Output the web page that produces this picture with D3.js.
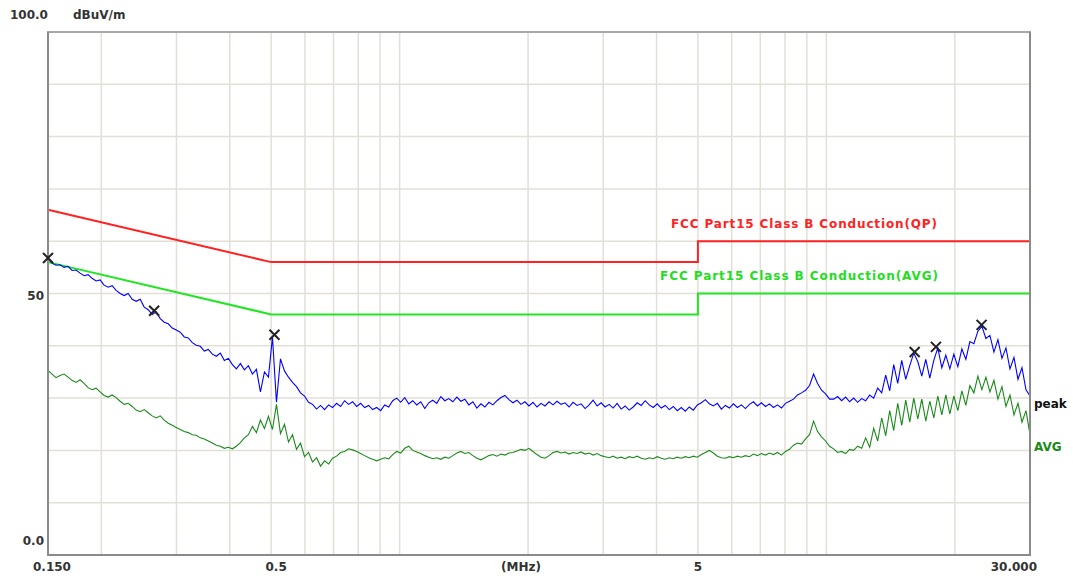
<!DOCTYPE html>
<html>
<meta charset="utf-8">
<script src="https://cdn.jsdelivr.net/npm/d3@7/dist/d3.min.js"></script>
<style>
  body { margin: 0; background: white; }
  text { font-family: "DejaVu Sans", Verdana, sans-serif; font-weight: bold; font-size: 12px; }
</style>
<body>
<svg id="chart" width="1073" height="581"></svg>
<script>

// sweep start/stop in MHz, trace values (dBuV/m)
var fStart = 0.15, fStop = 30
var peakVals = [56.6,55.8,55.4,55.5,55.0,55.2,54.4,54.5,53.9,53.4,53.6,52.9,52.4,52.6,51.6,51.2,51.5,50.6,50.0,49.6,
  50.0,48.9,48.5,48.9,47.4,46.9,46.0,46.5,45.2,44.5,44.2,43.4,43.0,42.6,41.7,41.5,40.6,40.1,39.9,39.0,
  39.3,38.4,38.0,38.6,37.2,37.6,36.4,35.6,36.6,35.4,36.2,34.6,35.5,31.2,35.0,34.0,41.7,29.2,37.5,35.2,
  34.0,33.0,32.2,31.0,30.4,29.2,28.8,27.9,28.6,27.8,28.7,28.2,29.0,28.4,29.5,28.8,29.3,28.4,29.0,28.2,
  28.6,27.8,28.2,27.6,28.7,28.3,29.5,30.0,29.2,30.1,28.9,29.5,28.7,29.3,28.0,29.1,29.6,29.0,30.3,29.5,
  29.9,29.3,30.2,29.4,29.8,28.7,29.3,28.1,28.9,28.3,29.2,28.7,29.5,30.1,30.5,29.7,29.1,29.6,28.8,29.3,
  28.5,29.2,28.3,29.0,28.5,29.3,28.7,29.4,28.8,29.1,28.3,29.2,28.6,28.9,28.0,28.7,29.6,28.5,29.1,28.3,
  28.8,28.1,29.0,27.9,28.5,27.7,28.3,29.1,28.6,29.5,28.7,28.2,28.9,28.1,28.6,27.8,28.4,27.6,28.2,27.5,
  28.3,27.7,28.7,29.1,29.7,28.9,28.5,29.0,27.9,28.6,28.1,28.9,28.2,28.7,28.0,28.8,29.3,28.5,29.1,28.4,
  28.9,28.2,28.7,28.1,29.0,29.4,29.8,30.6,31.0,31.5,32.4,34.6,32.8,31.5,30.8,29.8,29.8,30.3,29.5,30.2,
  29.3,30.0,29.2,29.9,29.5,30.6,30.0,31.9,31.0,34.4,31.4,36.4,32.8,37.2,33.6,36.2,38.6,37.0,34.2,37.4,
  33.8,37.2,39.6,35.8,38.2,35.6,38.4,36.0,39.4,37.4,40.8,40.4,42.8,43.7,41.4,42.0,38.8,41.2,37.6,39.6,
  35.6,37.8,33.6,35.8,31.6,30.4]
var avgVals = [35.3,34.6,33.9,34.3,34.6,34.0,33.4,33.0,33.5,32.8,32.0,31.6,31.9,31.2,30.5,30.2,30.6,30.1,29.4,28.8,
  29.0,28.4,27.7,27.4,27.8,27.2,26.6,26.2,26.6,25.8,25.2,24.8,24.4,24.0,23.6,23.4,23.0,22.9,22.4,22.2,
  21.8,21.4,21.0,20.8,20.4,20.6,20.3,20.8,21.5,22.4,23.0,24.6,23.4,25.8,24.2,26.5,24.0,28.8,23.2,25.0,
  21.6,23.0,20.2,21.4,18.8,19.6,17.8,18.6,17.0,18.0,17.4,18.5,18.9,19.6,19.8,20.3,20.1,19.8,19.4,19.0,
  18.6,18.3,18.0,18.3,18.6,18.4,19.2,19.8,19.5,20.4,20.8,20.0,19.7,19.4,19.0,18.7,18.4,18.6,18.3,18.7,
  18.5,19.0,19.5,19.8,19.4,19.6,19.0,18.5,18.2,18.6,19.0,19.2,18.9,19.3,19.1,19.5,19.6,19.9,20.2,20.0,
  20.4,19.8,19.2,18.7,18.5,19.0,19.6,19.8,19.5,19.7,19.3,19.6,19.4,19.7,19.3,19.5,19.1,19.4,19.0,18.8,
  18.6,18.9,18.5,18.7,18.4,18.8,18.6,18.9,18.5,18.3,18.6,18.4,18.8,18.5,18.3,18.6,18.4,18.7,18.5,18.8,
  18.6,18.9,18.7,19.2,19.6,20.0,19.5,18.9,18.6,18.5,18.8,18.6,18.9,18.7,19.0,18.8,19.3,19.0,19.4,19.1,
  19.5,19.2,19.6,19.1,19.8,20.2,21.0,21.4,21.2,22.2,23.0,25.6,23.6,22.6,21.8,20.8,20.3,19.6,19.8,19.4,
  20.2,20.0,20.8,20.4,22.4,20.6,24.2,21.8,26.2,22.8,27.6,23.8,29.0,24.8,29.6,25.4,30.0,26.0,29.8,25.6,
  29.4,26.2,30.4,26.8,30.6,27.0,30.4,27.6,31.4,28.6,32.4,31.0,34.2,31.6,34.0,31.2,33.4,29.8,32.2,28.4,
  30.6,26.8,29.0,25.4,27.6,23.0]
var qpLimit = [[0.15,66],[0.5,56],[5,56],[5,60],[30,60]]
var avgLimit = [[0.15,56],[0.5,46],[5,46],[5,50],[30,50]]
var markers = [[0.15,56.8],[0.266,46.7],[0.509,42.1],[16.1,38.8],[18.06,39.8],[23.1,44.0]]
var xGrid = [0.2,0.3,0.4,0.5,0.6,0.7,0.8,0.9,1,2,3,4,5,6,7,8,9,10,20]
var yGrid = [10,20,30,40,50,60,70,80,90]
var xLabels = [["0.150",0.15],["0.5",0.5],["5",5],["30.000",30]]

var svg = d3.select("#chart")
var plotL = 48, plotR = 1030, plotT = 32, plotB = 555

var x = d3.scaleLog().domain([fStart, fStop]).range([plotL, plotR])
var y = d3.scaleLinear().domain([0, 100]).range([plotB, plotT])

function sweep(vals){
  var n = vals.length
  return vals.map(function(v, i){
    return [fStart * Math.pow(fStop / fStart, i / (n - 1)), v]
  })
}

svg.append("rect").attr("width",1073).attr("height",581).attr("fill","white")

// grid
svg.append("g").selectAll("line").data(xGrid).enter().append("line")
  .attr("x1", function(d){ return x(d) }).attr("x2", function(d){ return x(d) })
  .attr("y1", plotT).attr("y2", plotB)
  .attr("stroke", "#e2dfd6").attr("stroke-width", 1.5)
svg.append("g").selectAll("line").data(yGrid).enter().append("line")
  .attr("y1", function(d){ return y(d) }).attr("y2", function(d){ return y(d) })
  .attr("x1", plotL).attr("x2", plotR)
  .attr("stroke", "#e2dfd6").attr("stroke-width", 1.5)

var line = d3.line().x(function(d){ return x(d[0]) }).y(function(d){ return y(d[1]) })

svg.append("path").datum(qpLimit).attr("d", line)
  .attr("fill","none").attr("stroke","#ff2222").attr("stroke-width",2)
svg.append("path").datum(avgLimit).attr("d", line)
  .attr("fill","none").attr("stroke","#22e622").attr("stroke-width",2)

svg.append("path").datum(sweep(avgVals)).attr("d", line)
  .attr("fill","none").attr("stroke","#1a8a1a").attr("stroke-width",1.1)
svg.append("path").datum(sweep(peakVals)).attr("d", line)
  .attr("fill","none").attr("stroke","#0000ff").attr("stroke-width",1.1)

// frame
svg.append("rect").attr("x", plotL).attr("y", plotT)
  .attr("width", plotR - plotL).attr("height", plotB - plotT)
  .attr("fill","none").attr("stroke","#a8a8a8").attr("stroke-width",2)
svg.append("path").attr("d", "M" + plotL + "," + plotT + "V" + plotB + "H" + plotR + "V" + plotT)
  .attr("fill","none").attr("stroke","#8a8a8a").attr("stroke-width",2)

// peak markers
var mk = svg.append("g").selectAll("g").data(markers).enter().append("g")
  .attr("transform", function(d){ return "translate(" + x(d[0]) + "," + y(d[1]) + ")" })
mk.append("path").attr("d","M-5,-5L5,5M-5,5L5,-5")
  .attr("stroke","#222").attr("stroke-width",2).attr("fill","none")

// axis text
svg.append("text").attr("x",10).attr("y",19).attr("fill","#333").text("100.0")
svg.append("text").attr("x",73).attr("y",19).attr("fill","#333").text("dBuV/m")
svg.append("text").attr("x",44).attr("y",y(50)+2).attr("dy","0.35em").attr("text-anchor","end").attr("fill","#333").text("50")
svg.append("text").attr("x",44).attr("y",y(0)-14).attr("dy","0.35em").attr("text-anchor","end").attr("fill","#333").text("0.0")

svg.append("g").selectAll("text").data(xLabels).enter().append("text")
  .attr("x", function(d){ return d[1] == 30 ? x(d[1]) + 7 : x(d[1]) + (d[1] == 0.5 ? 5 : d[1] == 0.15 ? 4 : 0) })
  .attr("y", 571)
  .attr("text-anchor", function(d){ return d[1] == 30 ? "end" : "middle" })
  .attr("fill","#333").text(function(d){ return d[0] })
svg.append("text").attr("x",521).attr("y",571).attr("text-anchor","middle").attr("fill","#333").text("(MHz)")

svg.append("text").attr("x",671).attr("y",228).attr("fill","#ff2222")
  .attr("textLength",266).attr("lengthAdjust","spacing").text("FCC Part15 Class B Conduction(QP)")
svg.append("text").attr("x",660).attr("y",280).attr("fill","#22dd22")
  .attr("textLength",278).attr("lengthAdjust","spacing").text("FCC Part15 Class B Conduction(AVG)")

svg.append("text").attr("x",1034).attr("y",408).attr("fill","#111").text("peak")
svg.append("text").attr("x",1034).attr("y",451).attr("fill","#1a8a1a").text("AVG")

</script>
</body>
</html>
